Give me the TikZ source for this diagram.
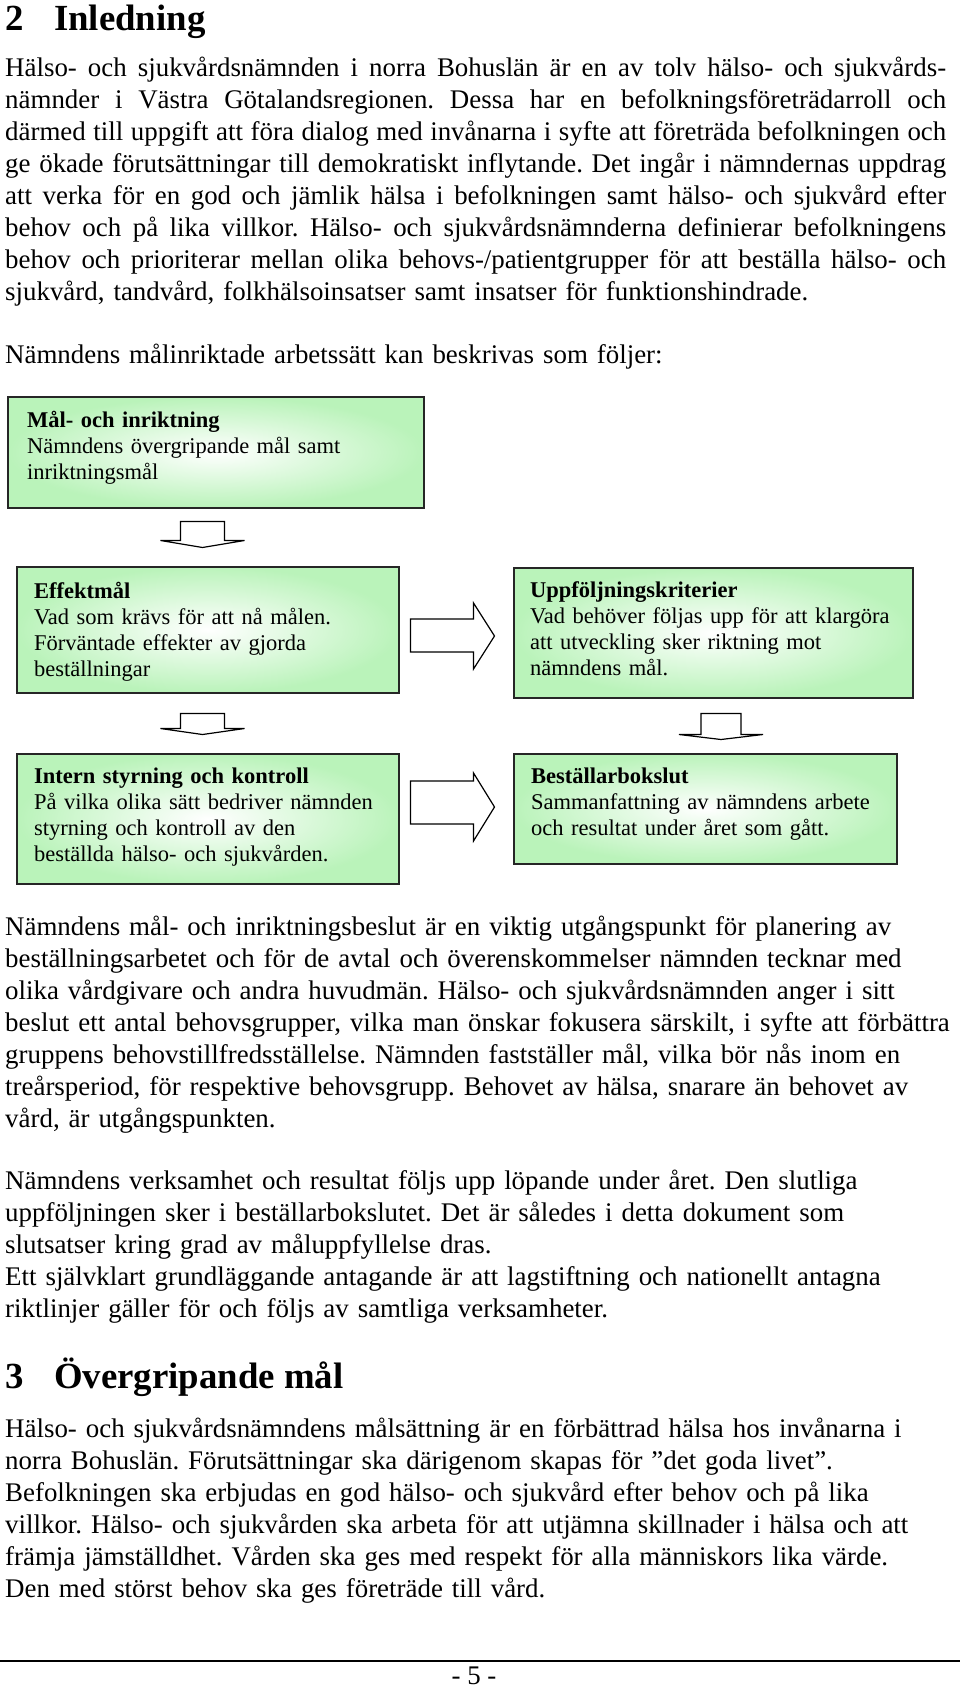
\documentclass[tikz,border=0pt]{standalone}
\usepackage{fontspec}
\setmainfont{Liberation Serif}
\usepackage{xcolor}
\usetikzlibrary{calc}

\definecolor{boxgreen}{RGB}{186,243,186}
\newcommand{\bodyfont}{\fontsize{26.9}{32}\selectfont\frenchspacing}
\newcommand{\boxfont}{\fontsize{22.5}{26}\selectfont\frenchspacing}
\newcommand{\headfont}{\fontsize{36.8}{42}\selectfont\bfseries}
\newcommand{\jline}[1]{\makebox[941pt][s]{\spaceskip=0.25em plus 0.5em minus 0.1em #1}}

\tikzset{
  bodytext/.style={anchor=base west, inner sep=0pt, text width=960pt, align=left, font=\bodyfont},
  boxtext/.style={anchor=base west, inner sep=0pt, text width=380pt, align=left, font=\boxfont},
  headtext/.style={anchor=base west, inner sep=0pt, font=\headfont},
  greenbox/.style={draw=black!85, line width=1.5pt, inner color=white, outer color=boxgreen, anchor=north west, inner sep=0pt},
  blockarrow/.style={draw=black, line width=1.2pt, fill=white, line join=miter},
}

\begin{document}
\begin{tikzpicture}[x=1pt,y=-1pt]
    \useasboundingbox (0,0) rectangle (960,1685);

    % Section 2
    \node[headtext] (h2) at (5,31) {\makebox[49pt][l]{2}Inledning};
    \node[bodytext] (p1) at (5,77) {%
      \jline{Hälso- och sjukvårdsnämnden i norra Bohuslän är en av tolv hälso- och sjukvårds-}\\
      \jline{nämnder i Västra Götalandsregionen. Dessa har en befolkningsföreträdarroll och}\\
      \jline{därmed till uppgift att föra dialog med invånarna i syfte att företräda befolkningen och}\\
      \jline{ge ökade förutsättningar till demokratiskt inflytande. Det ingår i nämndernas uppdrag}\\
      \jline{att verka för en god och jämlik hälsa i befolkningen samt hälso- och sjukvård efter}\\
      \jline{behov och på lika villkor. Hälso- och sjukvårdsnämnderna definierar befolkningens}\\
      \jline{behov och prioriterar mellan olika behovs-/patientgrupper för att beställa hälso- och}\\
      sjukvård, tandvård, folkhälsoinsatser samt insatser för funktionshindrade.};
    \node[bodytext] (p2) at (5,363) {Nämndens målinriktade arbetssätt kan beskrivas som följer:};

    % Boxes
    \node[greenbox, minimum width=416pt, minimum height=111pt] (mal) at (7,396) {};
    \node[greenbox, minimum width=382pt, minimum height=126pt] (effekt) at (16,566) {};
    \node[greenbox, minimum width=399pt, minimum height=130pt] (uppf) at (513,567) {};
    \node[greenbox, minimum width=382pt, minimum height=130pt] (intern) at (16,753) {};
    \node[greenbox, minimum width=383pt, minimum height=110pt] (bokslut) at (513,753) {};

    \node[boxtext] (maltxt) at ($(mal.north west)+(20,31)$) {\textbf{Mål- och inriktning}\\
      Nämndens övergripande mål samt\\ inriktningsmål};
    \node[boxtext] (effekttxt) at ($(effekt.north west)+(18,32)$) {\textbf{Effektmål}\\
      Vad som krävs för att nå målen.\\ Förväntade effekter av gjorda\\ beställningar};
    \node[boxtext] (uppftxt) at ($(uppf.north west)+(17,30)$) {\textbf{Uppföljningskriterier}\\
      Vad behöver följas upp för att klargöra\\ att utveckling sker riktning mot\\ nämndens mål.};
    \node[boxtext] (interntxt) at ($(intern.north west)+(18,30)$) {\textbf{Intern styrning och kontroll}\\
      På vilka olika sätt bedriver nämnden\\ styrning och kontroll av den\\ beställda hälso- och sjukvården.};
    \node[boxtext] (boksluttxt) at ($(bokslut.north west)+(18,30)$) {\textbf{Beställarbokslut}\\
      Sammanfattning av nämndens arbete\\ och resultat under året som gått.};

    % Block arrows
    \draw[blockarrow] ($(mal.south west)+(173.5,13)$) -- ++(44,0) -- ++(0,19) -- ++(20,0)
      -- ++(-42,7) -- ++(-42,-7) -- ++(20,0) -- cycle;
    \draw[blockarrow] ($(effekt.south west)+(164.5,20)$) -- ++(44,0) -- ++(0,15) -- ++(20,0)
      -- ++(-42,6) -- ++(-42,-6) -- ++(20,0) -- cycle;
    \draw[blockarrow] ($(uppf.south west)+(188,15)$) -- ++(40,0) -- ++(0,21) -- ++(22,0)
      -- ++(-42,5) -- ++(-42,-5) -- ++(22,0) -- cycle;
    \draw[blockarrow] ($(effekt.north east)+(11,53)$) -- ++(63,0) -- ++(0,-16) -- ++(21,33)
      -- ++(-21,33) -- ++(0,-17) -- ++(-63,0) -- cycle;
    \draw[blockarrow] ($(intern.north east)+(11,28)$) -- ++(63,0) -- ++(0,-8) -- ++(21,34)
      -- ++(-21,34) -- ++(0,-17) -- ++(-63,0) -- cycle;

    % Text below the boxes
    \node[bodytext] (p3) at (5,935) {%
      Nämndens mål- och inriktningsbeslut är en viktig utgångspunkt för planering av\\
      beställningsarbetet och för de avtal och överenskommelser nämnden tecknar med\\
      olika vårdgivare och andra huvudmän. Hälso- och sjukvårdsnämnden anger i sitt\\
      beslut ett antal behovsgrupper, vilka man önskar fokusera särskilt, i syfte att förbättra\\
      gruppens behovstillfredsställelse. Nämnden fastställer mål, vilka bör nås inom en\\
      treårsperiod, för respektive behovsgrupp. Behovet av hälsa, snarare än behovet av\\
      vård, är utgångspunkten.};
    \node[bodytext] (p4) at (5,1189) {%
      Nämndens verksamhet och resultat följs upp löpande under året. Den slutliga\\
      uppföljningen sker i beställarbokslutet. Det är således i detta dokument som\\
      slutsatser kring grad av måluppfyllelse dras.\\
      Ett självklart grundläggande antagande är att lagstiftning och nationellt antagna\\
      riktlinjer gäller för och följs av samtliga verksamheter.};

    % Section 3
    \node[headtext] (h3) at (5,1388) {\makebox[49pt][l]{3}Övergripande mål};
    \node[bodytext] (p5) at (5,1437) {%
      Hälso- och sjukvårdsnämndens målsättning är en förbättrad hälsa hos invånarna i\\
      norra Bohuslän. Förutsättningar ska därigenom skapas för ”det goda livet”.\\
      Befolkningen ska erbjudas en god hälso- och sjukvård efter behov och på lika\\
      villkor. Hälso- och sjukvården ska arbeta för att utjämna skillnader i hälsa och att\\
      främja jämställdhet. Vården ska ges med respekt för alla människors lika värde.\\
      Den med störst behov ska ges företräde till vård.};

    % Footer
    \draw[line width=1.5pt] (0,1661) -- (960,1661);
    \node[font=\bodyfont, anchor=base, inner sep=0pt] (pagenr) at (474,1684) {- 5 -};
\end{tikzpicture}
\end{document}
